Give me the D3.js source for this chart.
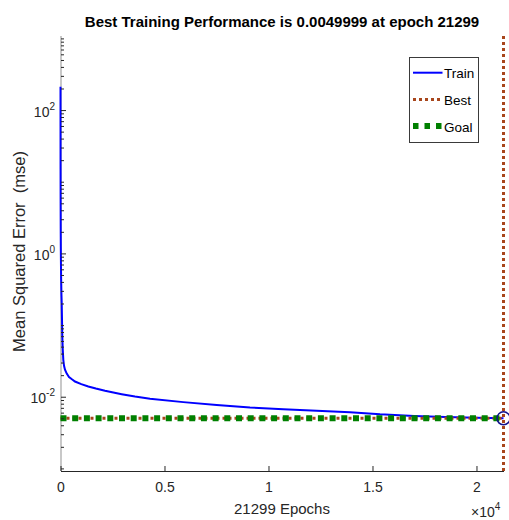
<!DOCTYPE html>
<html>
<head>
<meta charset="utf-8">
<script src="https://cdn.jsdelivr.net/npm/d3@7"></script>
<style>
  body { margin: 0; background: #fff; }
  svg text { font-family: "Liberation Sans", Arial, Helvetica, sans-serif; }
</style>
</head>
<body>
<div id="chart"></div>
<script>
	// data
	var epochs = [0, 1, 3, 6, 10, 15, 20, 30, 45, 58, 70, 87, 110, 135, 170, 216, 300, 409, 550, 697,
		1000, 1337, 1700, 2139, 2942, 3582, 4303, 5904, 7510, 9111, 10712, 12317, 13918, 15361,
		17000, 18500, 20000, 21299];
	var mse = [211, 60, 15, 5, 2.2, 1.2, 0.8, 0.45, 0.27, 0.205, 0.13, 0.069, 0.045, 0.0327, 0.027, 0.0238,
		0.021, 0.0188, 0.0175, 0.0163, 0.015, 0.0139, 0.013, 0.0121, 0.01086, 0.01006, 0.00935, 0.00841,
		0.00764, 0.00707, 0.00671, 0.00636, 0.00609, 0.00569, 0.0054, 0.0052, 0.00508, 0.0049999];
	var bestEpoch = 21299, bestPerf = 0.0049999, goal = 0.005;

	var xTicks = [0, 5000, 10000, 15000, 20000];
	var xTickLabels = ["0", "0.5", "1", "1.5", "2"];
	var yMajorTicks = [1e-2, 1, 1e2];
	var yMajorExp = ["-2", "0", "2"];
	var legendNames = ["Train", "Best", "Goal"];

	var titleText = "Best Training Performance is " + bestPerf + " at epoch " + bestEpoch;

	// colors
	var cTrain = "#0000ff", cBest = "#a8461c", cGoal = "#008000", cAxis = "#262626";

	// set SVG canvass
	var svg = d3.select("#chart")
		.append("svg")
			.attr("width", 509)
			.attr("height", 520);

	// scales
	var x = d3.scaleLinear()
		.domain([0, bestEpoch])
		.range([60.5, 503.5]);
	var y = d3.scaleLog()
		.domain([1e-3, 1e3])
		.range([468.4, 38.4]);

	var plotTop = 36, plotBottom = 471, plotLeft = 61, plotRight = 504;

	// minor y ticks, every n*10^k
	var yMinorTicks = [];
	for (var k = -3; k <= 2; k++) {
		for (var n = 1; n <= 9; n++) {
			var v = n * Math.pow(10, k);
			if (yMajorTicks.indexOf(v) < 0) yMinorTicks.push(v);
		}
	}
	yMinorTicks.push(1000);

	// title
	svg.append("text")
		.attr("x", 282)
		.attr("y", 27)
		.attr("text-anchor", "middle")
		.attr("font-size", "15px")
		.attr("font-weight", "bold")
		.attr("fill", "#000")
		.text(titleText);

	// left axis line (under the curve)
	svg.append("line")
		.attr("x1", plotLeft).attr("x2", plotLeft)
		.attr("y1", plotTop).attr("y2", plotBottom)
		.attr("stroke", "#c8c8c8").attr("stroke-width", 2);

	// train curve
	var line = d3.line()
		.x(function(d, i) { return x(epochs[i]); })
		.y(function(d) { return y(d); });

	svg.append("path")
		.datum(mse)
		.attr("fill", "none")
		.attr("stroke", cTrain)
		.attr("stroke-width", 2)
		.attr("d", line);

	// best lines (horizontal + vertical)
	svg.append("line")
		.attr("x1", x(0)).attr("x2", x(bestEpoch))
		.attr("y1", y(bestPerf)).attr("y2", y(bestPerf))
		.attr("stroke", cBest).attr("stroke-width", 3)
		.attr("stroke-dasharray", "3 3");
	svg.append("line")
		.attr("x1", x(bestEpoch)).attr("x2", x(bestEpoch))
		.attr("y1", plotTop).attr("y2", plotBottom)
		.attr("stroke", cBest).attr("stroke-width", 3)
		.attr("stroke-dasharray", "3 3");

	// goal line
	svg.append("line")
		.attr("x1", x(0)).attr("x2", x(bestEpoch))
		.attr("y1", y(goal)).attr("y2", y(goal))
		.attr("stroke", cGoal).attr("stroke-width", 6)
		.attr("stroke-dasharray", "6 5.7");

	// best marker
	svg.append("circle")
		.attr("cx", x(bestEpoch))
		.attr("cy", y(bestPerf))
		.attr("r", 6.5)
		.attr("fill", "none")
		.attr("stroke", "#10108c")
		.attr("stroke-width", 1.5);

	// y axis
	var yAxMinor = svg.append("g")
		.attr("transform", "translate(" + plotLeft + ",0)")
		.call(d3.axisLeft(y).tickValues(yMinorTicks).tickSize(-3).tickFormat(""));
	var yAxMajor = svg.append("g")
		.attr("transform", "translate(" + plotLeft + ",0)")
		.call(d3.axisLeft(y).tickValues(yMajorTicks).tickSize(-5).tickPadding(6).tickFormat(""));
	[yAxMinor, yAxMajor].forEach(function(g) {
		g.select(".domain").remove();
		g.selectAll(".tick line").attr("stroke", cAxis);
	});
	yAxMajor.selectAll(".tick text")
		.attr("fill", cAxis)
		.attr("font-size", "14px")
		.attr("dy", "6")
		.each(function(d, i) {
			var t = d3.select(this);
			t.append("tspan").text("10");
			t.append("tspan").attr("dy", -7).attr("font-size", "10px").text(yMajorExp[i]);
		});

	// x axis
	var xAx = svg.append("g")
		.attr("transform", "translate(0," + plotBottom + ")")
		.call(d3.axisBottom(x).tickValues(xTicks).tickSize(-5).tickPadding(11)
			.tickFormat(function(d, i) { return xTickLabels[i]; }));
	xAx.select(".domain").remove();
	xAx.selectAll(".tick line").attr("stroke", cAxis);
	xAx.selectAll(".tick text").attr("fill", cAxis).attr("font-size", "14px");
	svg.append("line")
		.attr("x1", plotLeft).attr("x2", plotRight)
		.attr("y1", plotBottom + 0.5).attr("y2", plotBottom + 0.5)
		.attr("stroke", cAxis).attr("stroke-width", 1);

	// x multiplier
	var mult = svg.append("text")
		.attr("x", 471)
		.attr("y", 517)
		.attr("fill", cAxis)
		.attr("font-size", "14px");
	mult.append("tspan").text("\u00d710");
	mult.append("tspan").attr("dy", -7).attr("font-size", "10px").text("4");

	// axis labels
	svg.append("text")
		.attr("x", 282)
		.attr("y", 514)
		.attr("text-anchor", "middle")
		.attr("font-size", "15px")
		.attr("fill", cAxis)
		.text(bestEpoch + " Epochs");
	svg.append("text")
		.attr("transform", "translate(25,251.5) rotate(-90)")
		.attr("text-anchor", "middle")
		.attr("font-size", "16.5px")
		.attr("fill", cAxis)
		.attr("xml:space", "preserve")
		.style("white-space", "pre")
		.text("Mean Squared Error  (mse)");

	// legend
	var legend = svg.append("g");
	legend.append("rect")
		.attr("x", 409.5).attr("y", 57.5)
		.attr("width", 69).attr("height", 85)
		.attr("fill", "#fff")
		.attr("stroke", "#3a3a3a")
		.attr("stroke-width", 1);

	legendNames.forEach(function(name, i) {
		var row = legend.append("g")
			.attr("transform", "translate(0," + (72.7 + i * 26.7) + ")");
		var ln = row.append("line")
			.attr("x1", 413).attr("x2", 442.5)
			.attr("y1", 0).attr("y2", 0);
		if (name == "Train") {
			ln.attr("stroke", cTrain).attr("stroke-width", 2);
		} else if (name == "Best") {
			ln.attr("stroke", cBest).attr("stroke-width", 3).attr("stroke-dasharray", "3 3");
		} else {
			ln.attr("stroke", cGoal).attr("stroke-width", 6).attr("stroke-dasharray", "5.5 6");
		}
		row.append("text")
			.attr("x", 444)
			.attr("y", 5.5)
			.attr("font-size", "13.5px")
			.attr("fill", "#000")
			.text(name);
	});
</script>
</body>
</html>
